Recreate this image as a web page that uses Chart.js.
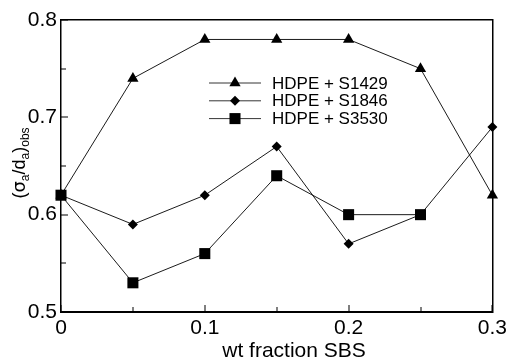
<!DOCTYPE html>
<html>
<head>
<meta charset="utf-8">
<script src="https://cdn.jsdelivr.net/npm/chart.js@4.4.0/dist/chart.umd.min.js"></script>
<style>
  html, body { margin: 0; padding: 0; background: #fff; overflow: hidden; }
  canvas { display: block; }
</style>
</head>
<body>
<canvas id="myLineChart" width="511" height="360"></canvas>
<script>
// data
var fractions = [0, 0.05, 0.1, 0.15, 0.2, 0.25, 0.3];
var s1429 = [0.62, 0.74, 0.78, 0.78, 0.78, 0.75, 0.62];
var s1846 = [0.62, 0.59, 0.62, 0.67, 0.57, 0.60, 0.69];
var s3530 = [0.62, 0.53, 0.56, 0.64, 0.60, 0.60];
var seriesLabels = ['HDPE + S1429', 'HDPE + S1846', 'HDPE + S3530'];
var xTicks = [0, 0.1, 0.2, 0.3];
var yTicks = [0.5, 0.6, 0.7, 0.8];

var FONT = '"Liberation Sans", Arial, sans-serif';

function toPoints(vals) {
    return vals.map(function (v, i) { return { x: fractions[i], y: v }; });
}

// inward ticks, legend and axis titles
var framePlugin = {
    id: 'frame',
    afterDraw: function (chart) {
        var ctx = chart.ctx;
        var xs = chart.scales.x, ys = chart.scales.y;
        var L = Math.round(xs.getPixelForValue(0));
        var B = Math.round(ys.getPixelForValue(0.5));
        ctx.save();
        ctx.fillStyle = '#000';

        var i, p, major;
        for (i = 0; i <= 6; i++) {
            p = Math.round(xs.getPixelForValue(i * 0.05));
            major = i % 2 === 0;
            ctx.fillRect(p - 0.5, B - (major ? 7 : 5), 1, major ? 7 : 5);
        }
        for (i = 0; i <= 6; i++) {
            p = Math.round(ys.getPixelForValue(0.5 + i * 0.05));
            major = i % 2 === 0;
            ctx.fillRect(L, p - 0.5, major ? 7 : 5, 1);
        }

        // legend
        ctx.font = '17px ' + FONT;
        ctx.textBaseline = 'middle';
        ctx.textAlign = 'left';
        chart.data.datasets.forEach(function (ds, k) {
            var ly = 83 + k * 17.8;
            ctx.strokeStyle = '#000';
            ctx.lineWidth = 0.8;
            ctx.beginPath();
            ctx.moveTo(209, ly);
            ctx.lineTo(261, ly);
            ctx.stroke();
            Chart.helpers.drawPoint(ctx, {
                pointStyle: ds.pointStyle,
                radius: ds.pointRadius,
                rotation: 0,
                borderWidth: 0
            }, 235, ly);
            ctx.fillStyle = '#000';
            ctx.fillText(ds.label, 272, ly + 1);
        });

        // x title
        ctx.font = '21px ' + FONT;
        ctx.textAlign = 'center';
        ctx.textBaseline = 'alphabetic';
        ctx.fillText('wt fraction SBS', 294, 357);

        // y title with subscripts
        ctx.translate(25, 163);
        ctx.rotate(-Math.PI / 2);
        var parts = [
            ['(', 18, 0, FONT], ['σ', 18, 0, '"DejaVu Sans", sans-serif'], ['a', 12, 4, FONT],
            ['/d', 18, 0, FONT], ['a', 12, 4, FONT], [')', 18, 0, FONT], ['obs', 12, 4, FONT]
        ];
        var total = 0;
        parts.forEach(function (q) {
            ctx.font = q[1] + 'px ' + q[3];
            total += ctx.measureText(q[0]).width;
        });
        var cx = -total / 2;
        ctx.textAlign = 'left';
        parts.forEach(function (q) {
            ctx.font = q[1] + 'px ' + q[3];
            ctx.fillText(q[0], cx, q[2]);
            cx += ctx.measureText(q[0]).width;
        });
        ctx.restore();
    }
};

// axis used only to draw the top / right edge of the box
function edgeAxis(pos, lo, hi) {
    return {
        type: 'linear',
        position: pos,
        min: lo,
        max: hi,
        afterFit: function (s) { if (s.isHorizontal()) { s.height = 0; } else { s.width = 0; } },
        grid: { display: false, drawTicks: false },
        ticks: { display: false },
        border: { display: true, color: '#000', width: 1.5 }
    };
}

var ctx = document.getElementById('myLineChart').getContext('2d');
var chart = new Chart(ctx, {
    type: 'line',
    data: {
        datasets: [{
            label: seriesLabels[0],
            data: toPoints(s1429),
            pointStyle: 'triangle',
            pointRadius: 6.5
        }, {
            label: seriesLabels[1],
            data: toPoints(s1846),
            pointStyle: 'rectRot',
            pointRadius: 5
        }, {
            label: seriesLabels[2],
            data: toPoints(s3530),
            pointStyle: 'rect',
            pointRadius: 7.8
        }].map(function (ds) {
            ds.borderColor = '#000';
            ds.backgroundColor = '#000';
            ds.borderWidth = 0.9;
            ds.pointBorderWidth = 0;
            ds.pointBackgroundColor = '#000';
            ds.tension = 0;
            ds.clip = false;
            return ds;
        })
    },
    options: {
        responsive: false,
        animation: false,
        devicePixelRatio: 1,
        layout: { padding: { top: 20, right: 14, left: 0, bottom: 0 } },
        plugins: { legend: { display: false }, tooltip: { enabled: false } },
        scales: {
            x: {
                type: 'linear',
                position: 'bottom',
                min: 0,
                max: 0.3,
                afterBuildTicks: function (s) { s.ticks = xTicks.map(function (v) { return { value: v }; }); },
                afterFit: function (s) { s.height = 48; },
                grid: { display: false, drawTicks: false },
                border: { display: true, color: '#000', width: 2 },
                ticks: {
                    color: '#000',
                    padding: 4,
                    maxRotation: 0,
                    font: { family: FONT, size: 21 },
                    callback: function (v) { return String(+v.toFixed(1)); }
                }
            },
            y: {
                position: 'left',
                min: 0.5,
                max: 0.8,
                afterBuildTicks: function (s) { s.ticks = yTicks.map(function (v) { return { value: v }; }); },
                afterFit: function (s) { s.width = 61; },
                grid: { display: false, drawTicks: false },
                border: { display: true, color: '#000', width: 1.5 },
                ticks: {
                    color: '#000',
                    padding: 4,
                    font: { family: FONT, size: 21 },
                    callback: function (v) { return v.toFixed(1); }
                }
            },
            xTop: edgeAxis('top', 0, 0.3),
            yRight: edgeAxis('right', 0.5, 0.8)
        }
    },
    plugins: [framePlugin]
});
</script>
</body>
</html>
